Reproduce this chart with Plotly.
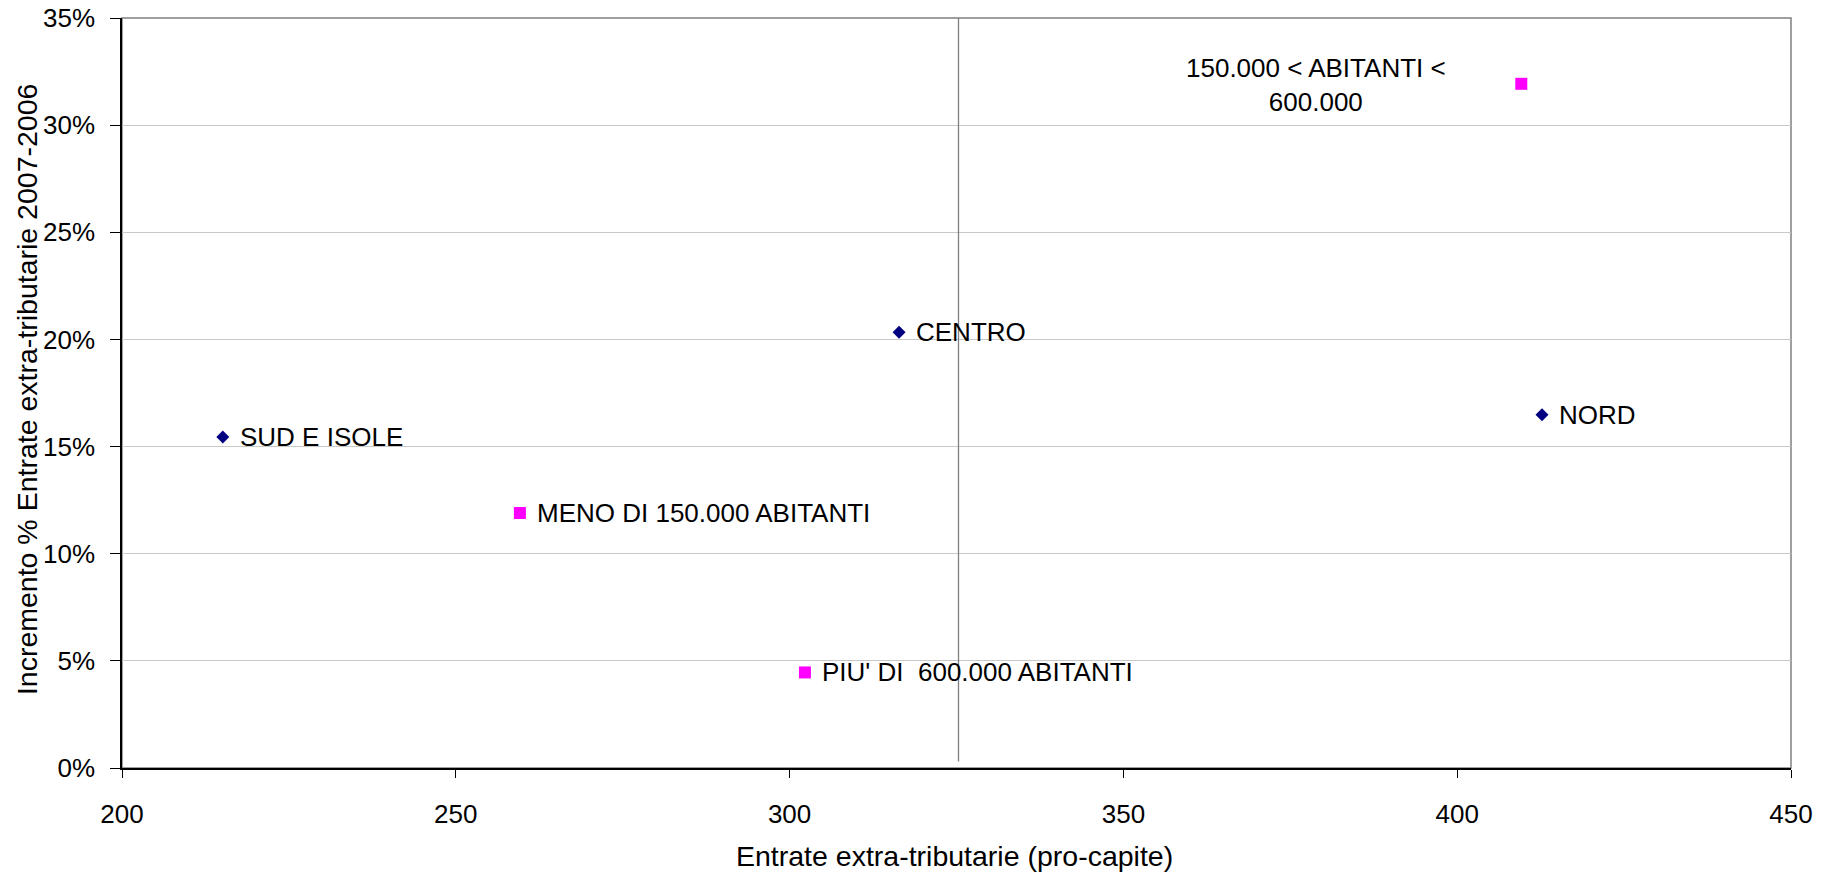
import plotly.graph_objects as go

# Data
regions = ["NORD", "CENTRO", "SUD E ISOLE"]
regions_x = [412.7, 316.4, 215.1]
regions_y = [0.1649, 0.2033, 0.1545]

sizes = ["MENO DI 150.000 ABITANTI", "150.000 < ABITANTI < 600.000", "PIU' DI  600.000 ABITANTI"]
sizes_x = [259.6, 409.6, 302.3]
sizes_y = [0.119, 0.3193, 0.0446]

ref_x = 325.3  # vertical reference line
ref_y = [0.003, 0.35]

x_ticks = [200, 250, 300, 350, 400, 450]
y_ticks = [0, 0.05, 0.10, 0.15, 0.20, 0.25, 0.30, 0.35]
y_tick_labels = ["0%", "5%", "10%", "15%", "20%", "25%", "30%", "35%"]

FONT = "Liberation Sans, Arial, sans-serif"
FS = 26
FS_TITLE = 28.5

fig = go.Figure()

fig.add_trace(go.Scatter(
    x=[ref_x, ref_x], y=ref_y, mode="lines",
    line=dict(color="#808080", width=1.3), hoverinfo="skip", showlegend=False))

fig.add_trace(go.Scatter(
    x=regions_x, y=regions_y, mode="markers",
    marker=dict(symbol="diamond", size=10, color="#000080"),
    showlegend=False, hoverinfo="skip"))

fig.add_trace(go.Scatter(
    x=sizes_x, y=sizes_y, mode="markers",
    marker=dict(symbol="square", size=12, color="#FF00FF"),
    showlegend=False, hoverinfo="skip"))

annotations = []
for name, x, y in zip(regions, regions_x, regions_y):
    annotations.append(dict(x=x, y=y, xref="x", yref="y", text=name, showarrow=False,
                            xanchor="left", yanchor="middle", xshift=15,
                            font=dict(family=FONT, size=FS, color="black")))
for name, x, y in zip(sizes, sizes_x, sizes_y):
    if "<" in name:
        txt = "150.000 &lt; ABITANTI &lt;<br>600.000"
        annotations.append(dict(x=x, y=y, xref="x", yref="y", text=txt, showarrow=False,
                                xanchor="right", yanchor="middle", xshift=-73, yshift=-1,
                                align="center",
                                font=dict(family=FONT, size=FS, color="black")))
    else:
        annotations.append(dict(x=x, y=y, xref="x", yref="y",
                                text=name.replace("  ", "\u00a0 "), showarrow=False,
                                xanchor="left", yanchor="middle", xshift=15,
                                font=dict(family=FONT, size=FS, color="black")))

# axis titles
annotations.append(dict(x=0.499, y=-0.117, xref="paper", yref="paper",
                        text="Entrate extra-tributarie (pro-capite)", showarrow=False,
                        xanchor="center", yanchor="middle",
                        font=dict(family=FONT, size=FS_TITLE, color="black")))
annotations.append(dict(x=-0.0573, y=0.095, xref="paper", yref="paper",
                        text="Incremento % Entrate extra-tributarie 2007-2006", showarrow=False,
                        textangle=-90, xanchor="center", yanchor="bottom",
                        font=dict(family=FONT, size=FS_TITLE, color="black")))

fig.update_layout(
    width=1837, height=874,
    margin=dict(l=122, r=46, t=18, b=106, autoexpand=False),
    paper_bgcolor="white", plot_bgcolor="white",
    font=dict(family=FONT, size=FS, color="black"),
    annotations=annotations,
    shapes=[dict(type="rect", xref="paper", yref="paper", x0=0, y0=0, x1=1, y1=1,
                 line=dict(color="#808080", width=1.5), layer="below")],
    showlegend=False,
)

fig.update_xaxes(range=[200, 450], tickvals=x_ticks, showgrid=False, zeroline=False,
                 showline=True, linecolor="black", linewidth=1.5, automargin=False,
                 ticks="outside", ticklen=8, tickcolor="black", tickwidth=1.2,
                 ticklabelstandoff=14, ticklabeloverflow="allow",
                 tickfont=dict(family=FONT, size=FS, color="black"))
fig.update_yaxes(range=[0, 0.35], tickvals=y_ticks, ticktext=y_tick_labels,
                 showgrid=True, gridcolor="#C8C8C8", gridwidth=1.3, zeroline=False,
                 showline=True, linecolor="black", linewidth=1.5, automargin=False,
                 ticks="outside", ticklen=10, tickcolor="black", tickwidth=1.2,
                 ticklabelstandoff=10, ticklabeloverflow="allow",
                 tickfont=dict(family=FONT, size=FS, color="black"))

fig.write_html("out.html", config={"displayModeBar": False},
               post_script="document.body.style.margin='0';document.body.style.overflow='hidden';")
